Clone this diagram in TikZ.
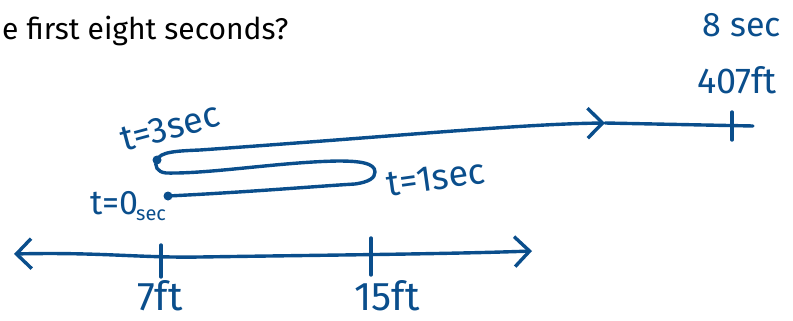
\documentclass[tikz,border=0pt]{standalone}
\usepackage{fontspec}
\setmainfont{Fira Sans}
\usepackage{xcolor}
\usetikzlibrary{arrows.meta, positioning, calc}
\definecolor{inkblue}{RGB}{10,78,140}

\begin{document}
\begin{tikzpicture}[x=1pt, y=-1pt,
    ink/.style={draw=inkblue, line width=3.4pt, line cap=round, line join=round},
    hand/.style={text=inkblue, font=\fontsize{#1}{#1}\selectfont, inner sep=0pt},
    hand/.default=36,
    >={Straight Barb[length=15pt, width=30pt, line width=3.4pt]},
    dotmark/.style={circle, fill=inkblue, inner sep=0pt, minimum size=9pt}
]
\useasboundingbox (0,0) rectangle (793,321);
\node[anchor=base west, inner sep=0pt, font=\fontsize{30}{32}\selectfont] (question) at (2,40) {e first eight seconds?};

\coordinate (lineL) at (14,254);
\coordinate (lineR) at (532,251);
\coordinate (p7) at (161,257);
\coordinate (p15) at (371,255);
\draw[ink, <->] (lineL) .. controls (100,252) and (140,258) .. (200,257)
  .. controls (330,255) and (450,254) .. (lineR);
\draw[ink] ($(p7)+(0,-12)$) -- ($(p7)+(0,20)$);
\draw[ink] ($(p15)+(0,-17)$) -- ($(p15)+(0,20)$);
\node[hand=40, anchor=north] (ft7) at (160,280) {7ft};
\node[hand=40, anchor=north] (ft15) at (387,280) {15ft};

\node[dotmark] (t0) at (168,196) {};
\node[dotmark] (t3) at (157,160) {};
\coordinate (t1) at (375,172);
\coordinate (arr) at (605,123);
\coordinate (t8) at (753,126);
\coordinate (p407) at (732,126);
\draw[ink] (t0.center) .. controls (250,192) and (320,186) .. (355,184)
  .. controls (369,182) and (375,178) .. (t1)
  .. controls (375,163) and (360,161) .. (338,161)
  .. controls (280,162) and (210,174) .. (166,173)
  .. controls (157,172) and (154,166) .. (t3.center);
\draw[ink, ->] (t3.center) .. controls (160,152) and (175,151) .. (200,150)
  .. controls (400,136) and (520,124) .. (arr);
\draw[ink] (arr) -- (t8);
\draw[ink] ($(p407)+(0,-14)$) -- ($(p407)+(0,14)$);

\node[hand=36] (ft407) at (737,80) {407ft};
\node[hand=34] (sec8) at (742,25) {8 sec};
\node[hand=36, rotate=15] (lab3) at (170,127) {t=3sec};
\node[hand=36, rotate=8] (lab1) at (436,178) {t=1sec};
\node[hand=34, anchor=east] (lab0) at (139,203) {t=0};
\node[hand=20, anchor=north west] (sec0) at (136,210) {sec};
\end{tikzpicture}
\end{document}
